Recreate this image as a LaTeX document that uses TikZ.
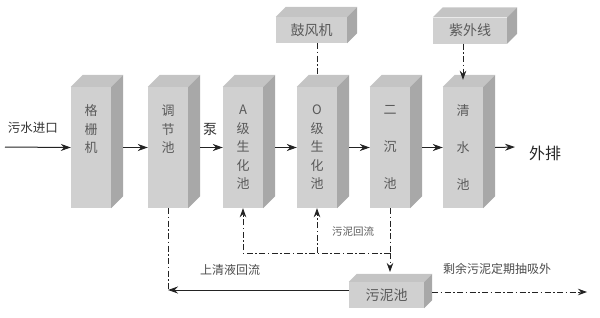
\documentclass[tikz,border=0pt]{standalone}
\usepackage{fontspec}
\setmainfont{Noto Sans CJK SC}
\definecolor{tankfront}{RGB}{208,208,208}
\definecolor{tanktop}{RGB}{196,196,196}
\definecolor{tankside}{RGB}{168,168,168}
\definecolor{tanktext}{RGB}{90,90,90}
\definecolor{linkgray}{RGB}{35,35,35}
\usetikzlibrary{arrows.meta,positioning,calc}

\begin{document}
\begin{tikzpicture}[
  x=1pt,y=1pt,
  tank/.style={fill=tankfront,minimum width=40pt,minimum height=121pt,align=center,
               text=tanktext,font=\fontsize{13}{18.5}\selectfont,inner sep=0pt},
  unit/.style={fill=tankfront,minimum height=26pt,align=center,text=tanktext,
               font=\fontsize{14}{16}\selectfont,inner sep=0pt},
  flow/.style={-{Stealth[length=10pt,width=7pt]},line width=1pt,linkgray},
  dashdot/.style={line width=0.8pt,dash pattern=on 6pt off 2.5pt on 1.5pt off 2.5pt,linkgray},
  tip/.style={-{Stealth[length=9pt,width=6.5pt]}},
  note/.style={text=black!80,font=\fontsize{12}{14}\selectfont},
]
  \useasboundingbox (0,0) rectangle (600,317);

  % Treatment line
  \node[tank] (grille)    at (91,169.5)  {格\\栅\\机\\~\\~};
  \node[tank] (regtank)   at (168,169.5) {调\\节\\池\\~\\~};
  \node[tank] (anoxic)    at (243,169.5) {A\\级\\生\\化\\池};
  \node[tank] (oxic)      at (317,169.5) {O\\级\\生\\化\\池};
  \node[tank] (settler)   at (390,169.5) {二\\~\\沉\\~\\池};
  \node[tank] (clearwell) at (463,169.5) {清\\~\\水\\~\\池};

  % Auxiliary units
  \node[unit,minimum width=71pt] (blower)     at (311.5,287) {鼓风机};
  \node[unit,minimum width=74pt] (uvlamp)     at (470,286.5) {紫外线};
  \node[unit,minimum width=75pt] (sludgetank) at (386.5,22)  {污泥池};

  % 3D faces
  \foreach \n/\d in {grille/12,regtank/12,anoxic/12,oxic/12,settler/12,clearwell/12,
                     blower/10,uvlamp/10,sludgetank/8} {
    \fill[tanktop] (\n.north west) -- ++(\d,\d) -- ($(\n.north east)+(\d,\d)$)
      -- (\n.north east) -- cycle;
    \fill[tankside] (\n.north east) -- ++(\d,\d) -- ($(\n.south east)+(\d,\d)$)
      -- (\n.south east) -- cycle;
  }

  % Main flow
  \coordinate (inlet)  at (5,170);
  \coordinate (outlet) at (515,170);
  \node[note,font=\fontsize{12.5}{14}\selectfont] (inletlbl) at (33,189) {污水进口};
  \node[note,font=\fontsize{14}{16}\selectfont] (pumplbl) at (210,188) {泵};
  \node[note,text=black!85,font=\fontsize{16}{18}\selectfont] (outletlbl) at (545,164) {外排};

  \draw[flow] (inlet) -- (grille.west);
  \draw[flow] ($(grille.east)+(12,0)$) -- (regtank.west);
  \draw[flow] ($(regtank.east)+(12,0)$) -- (anoxic.west);
  \draw[flow] ($(anoxic.east)+(12,0)$) -- (oxic.west);
  \draw[flow] ($(oxic.east)+(12,0)$) -- (settler.west);
  \draw[flow] ($(settler.east)+(12,0)$) -- (clearwell.west);
  \draw[flow] ($(clearwell.east)+(12,0)$) -- (outlet);

  % Air and UV
  \draw[dashdot] (oxic.north |- blower.south) -- ($(oxic.north)+(0,12)$);
  \draw[dashdot,tip] (clearwell.north |- uvlamp.south) -- ($(clearwell.north)+(0,7)$);

  % Sludge return
  \coordinate (split) at (390,64);
  \draw[dashdot] (settler.south) -- (split);
  \draw[dashdot,tip] (split) -| (anoxic.south);
  \draw[dashdot,tip] (oxic.south |- split) -- (oxic.south);
  \draw[dashdot,tip] (split) -- (390,45);
  \node[note,text=black!65,font=\fontsize{10.5}{12}\selectfont] (returnlbl) at (353,85) {污泥回流};

  % Supernatant return
  \coordinate (ret) at ($(sludgetank.west)+(0,5)$);
  \draw[flow] (ret) -- (ret -| regtank.south);
  \draw[dashdot] (regtank.south) -- (ret -| regtank.south);
  \node[note,text=black!70] (superlbl) at (230,47) {上清液回流};

  % Excess sludge
  \coordinate (waste) at (587,25);
  \draw[dashdot,tip] ($(sludgetank.east)+(8,3)$) -- (waste);
  \node[note,text=black!70] (wastelbl) at (497,48) {剩余污泥定期抽吸外};
\end{tikzpicture}
\end{document}
